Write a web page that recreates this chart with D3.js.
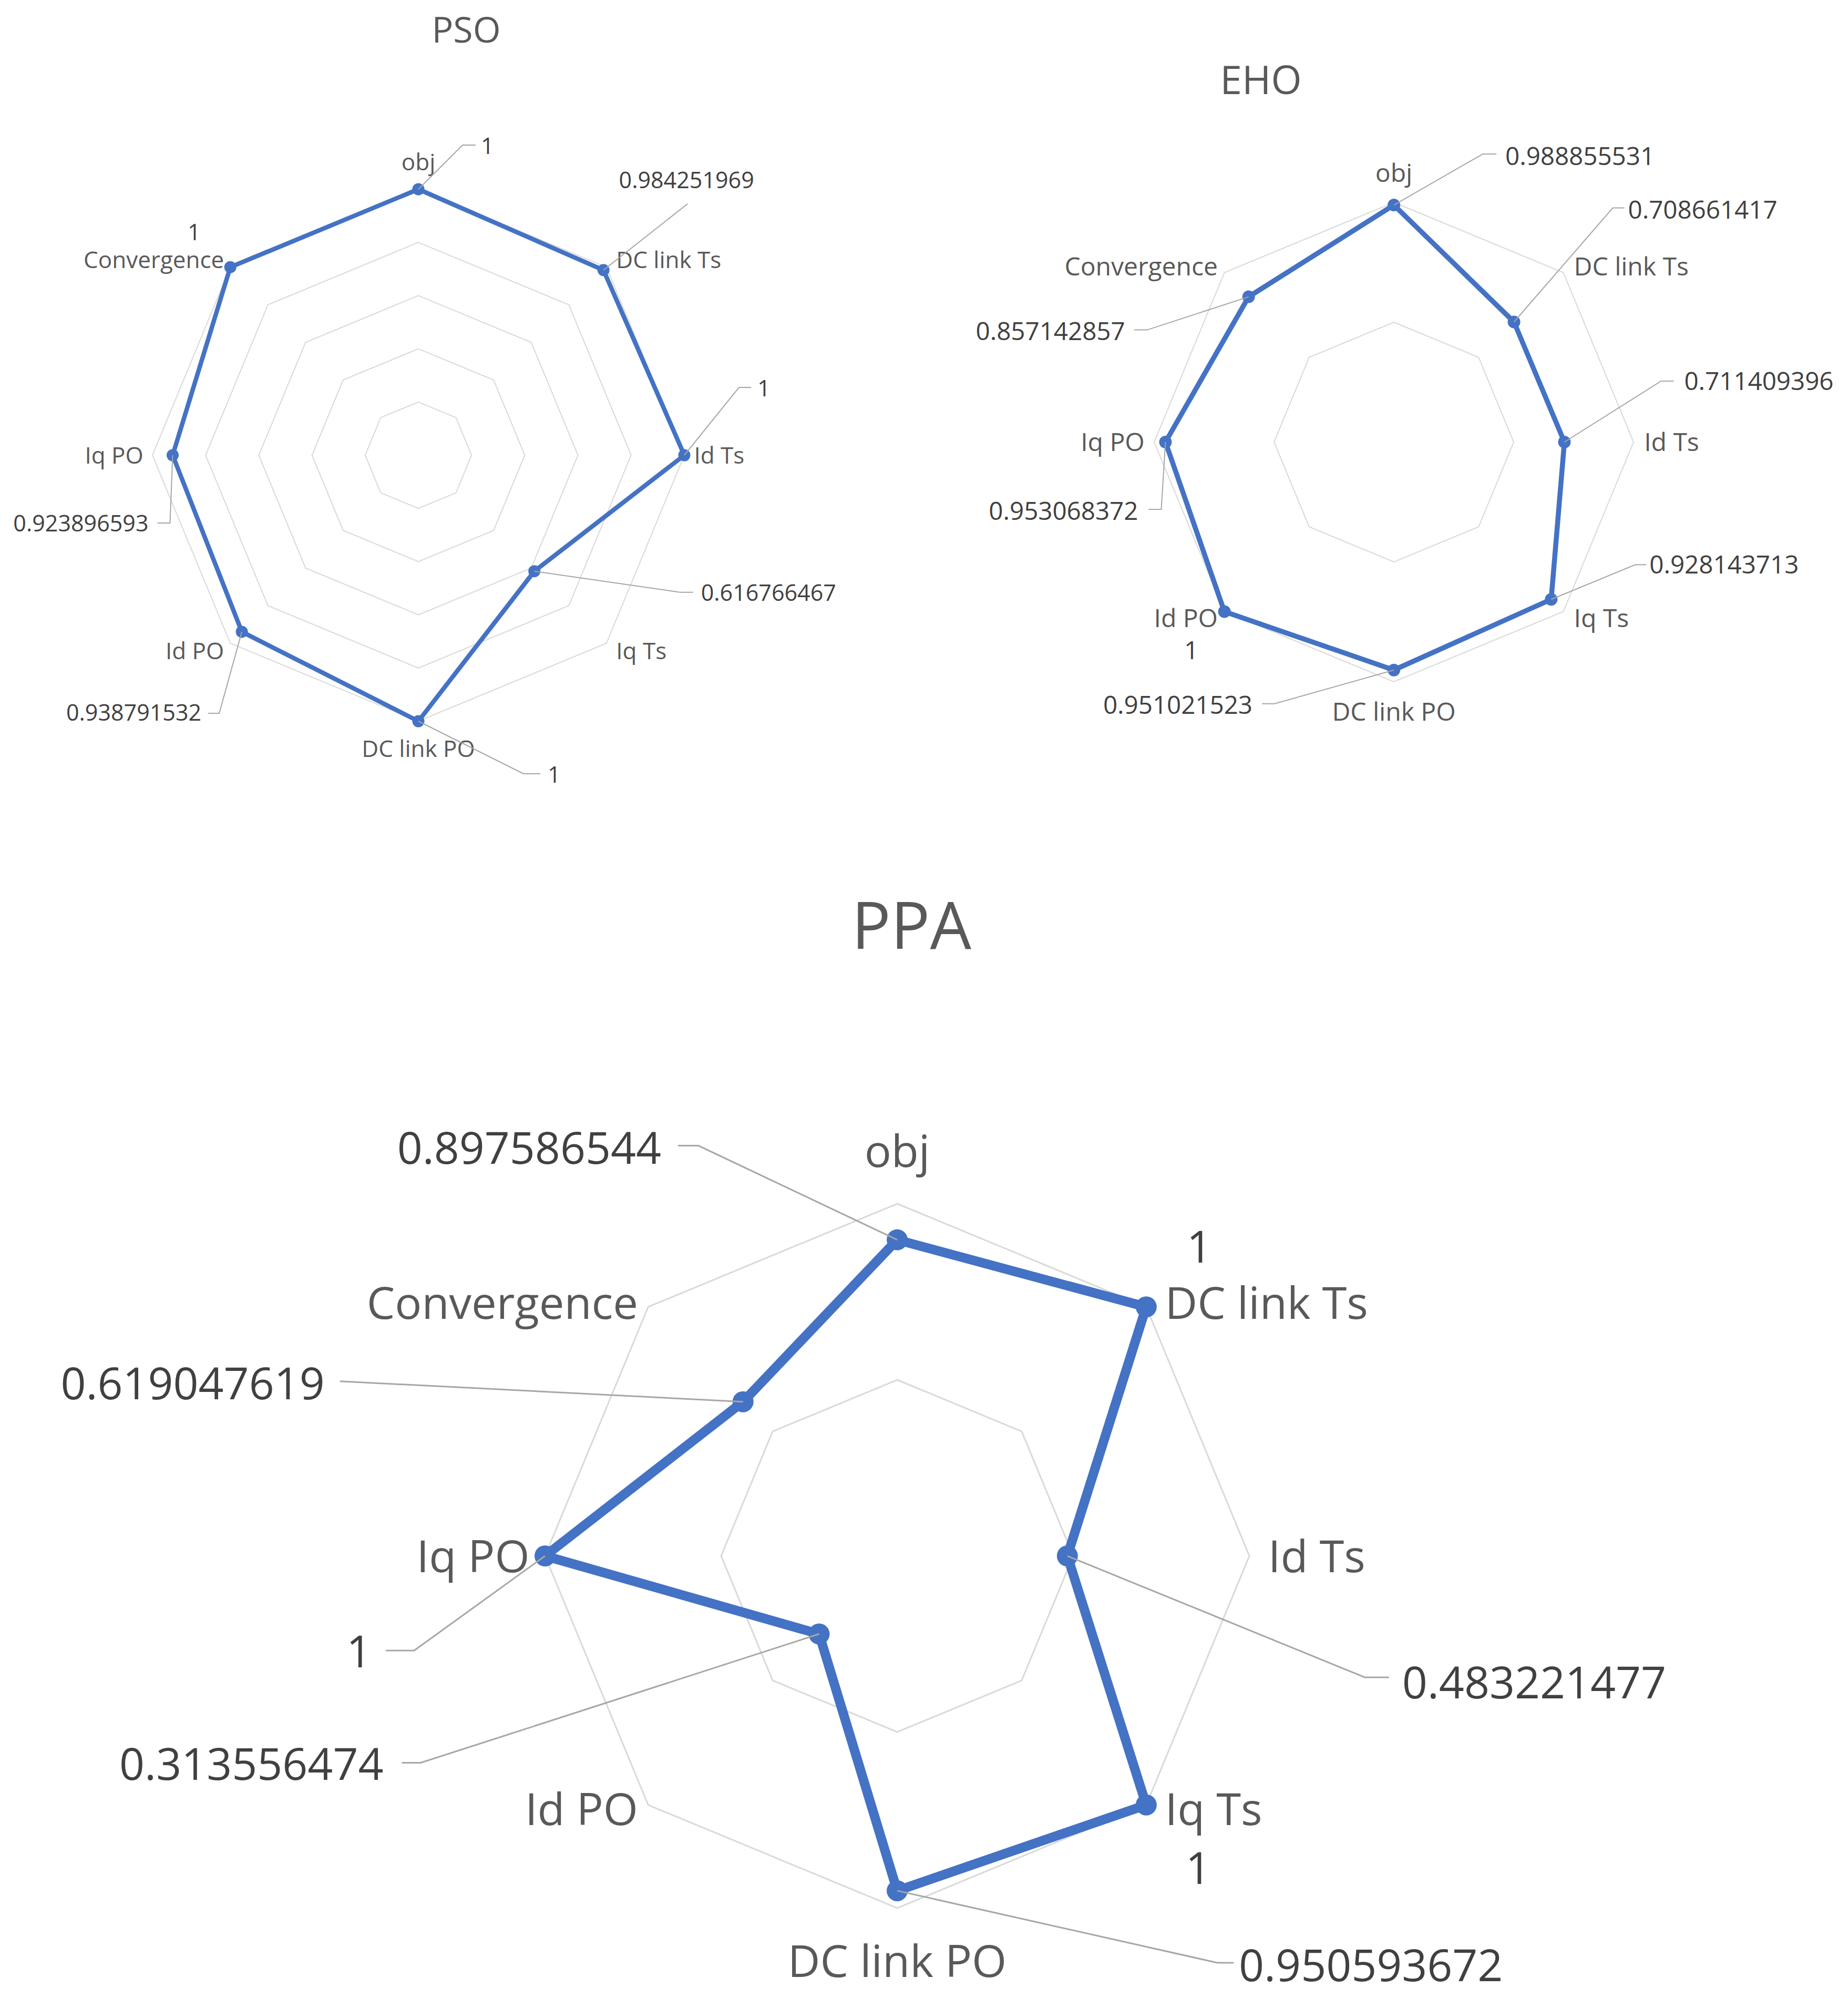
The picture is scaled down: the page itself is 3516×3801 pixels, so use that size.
<!DOCTYPE html>
<html><head><meta charset="utf-8">
<script src="https://cdn.jsdelivr.net/npm/d3@7"></script>
<style>html,body{margin:0;padding:0;background:#fff;} svg{display:block;}</style>
</head><body>
<svg id="chart" width="3516" height="3801"></svg>
<script>
// ---------- data ----------
const categories = ["obj", "DC link Ts", "Id Ts", "Iq Ts", "DC link PO", "Id PO", "Iq PO", "Convergence"];
const psoValues = [1, 0.984251969, 1, 0.616766467, 1, 0.938791532, 0.923896593, 1];
const ehoValues = [0.988855531, 0.708661417, 0.711409396, 0.928143713, 0.951021523, 1, 0.953068372, 0.857142857];
const ppaValues = [0.897586544, 1, 0.483221477, 1, 0.950593672, 0.313556474, 1, 0.619047619];
const psoTicks = [0.2, 0.4, 0.6, 0.8, 1.0];
const ehoTicks = [0.5, 1.0];
const ppaTicks = [0.5, 1.0];
const titles = ["PSO", "EHO", "PPA"];

// ---------- layout (positions / sizes / styles) ----------
const psoLabelLayout = [
  {a: "start", t: [119, -82], l: [[84, -84], [109, -84]]},
  {a: "middle", t: [158, -171], l: [[160, -126]]},
  {a: "start", t: [139, -127], l: [[104, -129], [127, -129]]},
  {a: "start", t: [317, 41], l: [[277, 40], [302, 40]]},
  {a: "start", t: [246, 102], l: [[200, 100], [232, 100]]},
  {a: "end", t: [-77, 154], l: [[-43, 155], [-64, 155]]},
  {a: "end", t: [-46, 130], l: [[-5, 129], [-29, 129]]},
  {a: "middle", t: [-69, -67], l: null}
];
const ehoLabelLayout = [
  {a: "start", t: [212, -93], l: [[169, -97], [195, -97]]},
  {a: "start", t: [217, -214], l: [[188, -217], [210, -217]]},
  {a: "start", t: [228, -116], l: [[184, -116], [208, -116]]},
  {a: "start", t: [187, -66], l: [[160, -66], [181, -66]]},
  {a: "end", t: [-269, 66], l: [[-227, 64], [-251, 64]]},
  {a: "middle", t: [-63, 73], l: null},
  {a: "end", t: [-52, 131], l: [[-8, 128], [-32, 128]]},
  {a: "end", t: [-235, 65], l: [[-193, 63], [-218, 63]]}
];
const ppaLabelLayout = [
  {a: "end", t: [-449, -175], l: [[-378, -179], [-417, -179]]},
  {a: "middle", t: [101, -114], l: null},
  {a: "start", t: [637, 241], l: [[566, 231], [612, 231]]},
  {a: "middle", t: [99, 120], l: null},
  {a: "start", t: [650, 142], l: [[609, 137], [640, 137]]},
  {a: "end", t: [-829, 247], l: [[-758, 245], [-794, 245]]},
  {a: "middle", t: [-354, 182], l: [[-249, 180], [-303, 180]]},
  {a: "end", t: [-796, -35], l: [[-767, -39]]}
];

const charts = [
  {title: titles[0], values: psoValues, ticks: psoTicks, labels: psoLabelLayout,
   cx: 796, cy: 866, r: 506, fsCat: 44, fsVal: 43, fsTitle: 68, tx: 887, ty: 81,
   stroke: 8.5, marker: 11.5, grid: 2, leader: 2, diagShift: 14},
  {title: titles[1], values: ehoValues, ticks: ehoTicks, labels: ehoLabelLayout,
   cx: 2652, cy: 841, r: 456, fsCat: 48, fsVal: 47.5, fsTitle: 75, tx: 2399, ty: 179,
   stroke: 9.5, marker: 12, grid: 2, leader: 2, diagShift: 12},
  {title: titles[2], values: ppaValues, ticks: ppaTicks, labels: ppaLabelLayout,
   cx: 1707, cy: 2960, r: 670, fsCat: 85, fsVal: 84, fsTitle: 124, tx: 1734, ty: 1805,
   stroke: 18, marker: 20, grid: 3, leader: 3, diagShift: 8}
];

const FONT = "'Open Sans', 'Noto Sans', sans-serif";
const BLUE = "#4472C4";
const fmt = v => String(+v.toFixed(9));

const svg = d3.select("#chart");
svg.append("rect").attr("width", 3516).attr("height", 3801).attr("fill", "#fff");

charts.forEach(c => {
  const n = categories.length;
  const angle = d3.scaleLinear().domain([0, n]).range([0, 2 * Math.PI]);
  const rScale = d3.scaleLinear().domain([0, 1]).range([0, c.r]);
  const g = svg.append("g").attr("transform", `translate(${c.cx},${c.cy})`);
  const pos = (i, v) => [Math.sin(angle(i)) * rScale(v), -Math.cos(angle(i)) * rScale(v)];

  // title
  svg.append("text").attr("x", c.tx).attr("y", c.ty)
    .attr("text-anchor", "middle").attr("font-family", FONT)
    .attr("font-size", c.fsTitle).attr("fill", "#595959").text(c.title);

  // grid rings
  const ring = d3.lineRadial().angle((d, i) => angle(i)).radius(d => rScale(d)).curve(d3.curveLinearClosed);
  g.selectAll("path.grid").data(c.ticks).join("path").attr("class", "grid")
    .attr("d", t => ring(categories.map(() => t)))
    .attr("fill", "none").attr("stroke", "#d9d9d9").attr("stroke-width", c.grid);

  // category labels
  g.selectAll("text.cat").data(categories).join("text").attr("class", "cat")
    .each(function (d, i) {
      const s = Math.sin(angle(i)), co = Math.cos(angle(i));
      let x, y, anchor;
      if (Math.abs(s) < 0.01) {
        x = 0; anchor = "middle";
        y = -co * (c.r + 1.18 * c.fsCat);
      } else {
        anchor = s > 0 ? "start" : "end";
        const horiz = Math.abs(co) < 0.01;
        const gap = s > 0 ? 0.42 * c.fsCat : (horiz ? 0.3 * c.fsCat + 4 : 0.18 * c.fsCat + 4);
        x = s * c.r + Math.sign(s) * gap;
        y = -co * c.r - Math.sign(co) * (horiz ? 0 : c.diagShift);
      }
      d3.select(this).attr("x", x).attr("y", y).attr("dy", "0.36em")
        .attr("text-anchor", anchor);
    })
    .attr("font-family", FONT).attr("font-size", c.fsCat).attr("fill", "#595959")
    .text(d => d);

  // series
  const line = d3.lineRadial().angle((d, i) => angle(i)).radius(d => rScale(d)).curve(d3.curveLinearClosed);
  g.append("path").attr("d", line(c.values)).attr("fill", "none")
    .attr("stroke", BLUE).attr("stroke-width", c.stroke).attr("stroke-linejoin", "round");
  g.selectAll("circle.pt").data(c.values).join("circle").attr("class", "pt")
    .attr("cx", (d, i) => pos(i, d)[0]).attr("cy", (d, i) => pos(i, d)[1])
    .attr("r", c.marker).attr("fill", BLUE);

  // leader lines
  c.values.forEach((v, i) => {
    const L = c.labels[i];
    if (!L.l) return;
    const p = pos(i, v);
    const pts = [p].concat(L.l.map(q => [p[0] + q[0], p[1] + q[1]]));
    g.append("path").attr("d", d3.line()(pts)).attr("fill", "none")
      .attr("stroke", "#a6a6a6").attr("stroke-width", c.leader);
  });

  // value labels
  g.selectAll("text.val").data(c.values).join("text").attr("class", "val")
    .attr("x", (d, i) => pos(i, d)[0] + c.labels[i].t[0])
    .attr("y", (d, i) => pos(i, d)[1] + c.labels[i].t[1])
    .attr("dy", "0.36em")
    .attr("text-anchor", (d, i) => c.labels[i].a)
    .attr("font-family", FONT).attr("font-size", c.fsVal).attr("fill", "#404040")
    .text(d => fmt(d));
});
</script>
</body></html>
